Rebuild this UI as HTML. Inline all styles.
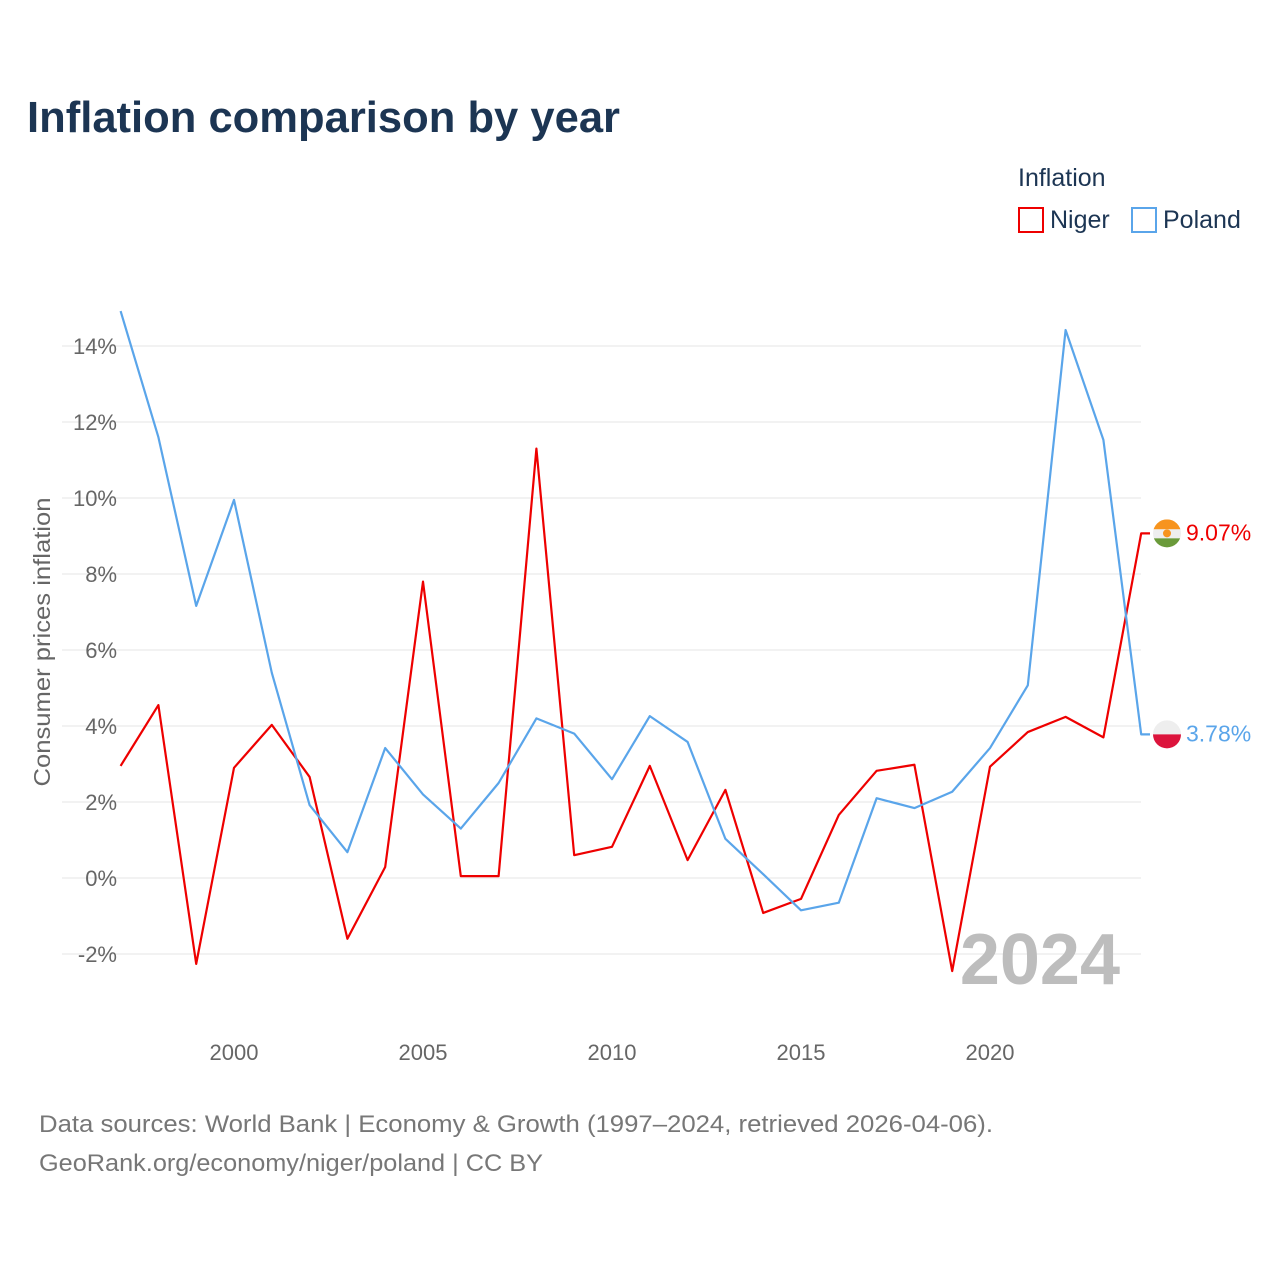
<!DOCTYPE html>
<html><head><meta charset="utf-8"><style>
body{margin:0;background:#fff;font-family:"Liberation Sans",sans-serif}
</style></head><body>
<svg width="1280" height="1280" xmlns="http://www.w3.org/2000/svg" style="font-family:'Liberation Sans',sans-serif">
<rect width="1280" height="1280" fill="#fff"/>
<text x="27" y="132" font-size="44" font-weight="bold" fill="#1c3553" textLength="593" lengthAdjust="spacingAndGlyphs">Inflation comparison by year</text>
<text x="1018" y="186" font-size="25" fill="#1c3553">Inflation</text>
<g><rect x="1019" y="208" width="24" height="24" fill="none" stroke="#ee0000" stroke-width="2"/><text x="1050" y="228" font-size="25" fill="#1c3553">Niger</text></g>
<g><rect x="1132" y="208" width="24" height="24" fill="none" stroke="#5aa5ea" stroke-width="2"/><text x="1163" y="228" font-size="25" fill="#1c3553">Poland</text></g>
<g id="grid"></g><g id="yt"></g><g id="xt"></g>
<text transform="translate(50,642) rotate(-90)" text-anchor="middle" font-size="23" fill="#666" textLength="289" lengthAdjust="spacingAndGlyphs">Consumer prices inflation</text>
<text x="1120" y="984" text-anchor="end" font-size="72" font-weight="bold" fill="#bdbdbd">2024</text>
<g id="lines"></g>
<text x="39" y="1132" font-size="24" fill="#777" textLength="954" lengthAdjust="spacingAndGlyphs">Data sources: World Bank | Economy &amp; Growth (1997–2024, retrieved 2026-04-06).</text>
<text x="39" y="1171" font-size="24" fill="#777" textLength="504" lengthAdjust="spacingAndGlyphs">GeoRank.org/economy/niger/poland | CC BY</text>
</svg>
<script>
const years=[1997,1998,1999,2000,2001,2002,2003,2004,2005,2006,2007,2008,2009,2010,2011,2012,2013,2014,2015,2016,2017,2018,2019,2020,2021,2022,2023,2024];
const poland=[14.92,11.6,7.16,9.95,5.4,1.92,0.68,3.42,2.2,1.3,2.5,4.2,3.8,2.6,4.26,3.58,1.03,0.1,-0.85,-0.65,2.1,1.84,2.27,3.42,5.07,14.42,11.53,3.78];
const niger=[2.95,4.55,-2.26,2.9,4.03,2.66,-1.6,0.29,7.8,0.05,0.05,11.3,0.6,0.82,2.95,0.47,2.32,-0.92,-0.55,1.66,2.82,2.98,-2.45,2.93,3.84,4.24,3.7,9.07];
const yTicks=[-2,0,2,4,6,8,10,12,14];
const xTicks=[2000,2005,2010,2015,2020];
const NS="http://www.w3.org/2000/svg";
const X=y=>120.6+(y-1997)*37.8, Y=v=>878-38*v;
function mk(t,a,p){const e=document.createElementNS(NS,t);for(const k in a)e.setAttribute(k,a[k]);p.appendChild(e);return e;}
const g=document.getElementById('grid'),yt=document.getElementById('yt'),xt=document.getElementById('xt'),L=document.getElementById('lines');
yTicks.forEach(v=>{const l=mk('line',{x1:62,x2:1141,y1:Y(v),y2:Y(v),stroke:'#e6e6e6','stroke-width':1},g);


const t=mk('text',{x:117,y:Y(v)+8,'text-anchor':'end','font-size':22,fill:'#666'},yt);t.textContent=v+'%';

});
xTicks.forEach(v=>{const t=mk('text',{x:X(v),y:1060,'text-anchor':'middle','font-size':22,fill:'#666'},xt);t.textContent=v;

});
function series(vals,col,name){
 const d=vals.map((v,i)=>(i?'L':'M')+X(years[i])+','+Y(v)).join(' ')+' L1150,'+Y(vals[vals.length-1]);
 const p=mk('path',{d:d,fill:'none',stroke:col,'stroke-width':2.2,'stroke-linejoin':'round'},L);
 
 
 const last=vals[vals.length-1];
 const t=mk('text',{x:1186,y:Y(last)+7,'font-size':23,fill:col},L);t.textContent=last.toFixed(2)+'%';
 
 
 return Y(last);
}
const yn=series(niger,'#ee0000','niger');
const yp=series(poland,'#5aa5ea','poland');
const fn=mk('g',{},L);


mk('clipPath',{id:'cn'},fn).appendChild(document.createElementNS(NS,'circle')).setAttribute('r','14');
fn.querySelector('circle').setAttribute('cx',1167);fn.querySelector('circle').setAttribute('cy',yn);
const gn=mk('g',{'clip-path':'url(#cn)'},fn);
mk('rect',{x:1153,y:yn-14,width:28,height:10,fill:'#f7941e'},gn);
mk('rect',{x:1153,y:yn-4,width:28,height:9,fill:'#eee'},gn);
mk('rect',{x:1153,y:yn+5,width:28,height:10,fill:'#6a9a3a'},gn);
mk('circle',{cx:1167,cy:yn,r:4,fill:'#f7941e'},gn);
const fp=mk('g',{},L);


mk('path',{d:`M1153,${yp} A14,14 0 0 1 1181,${yp} Z`,fill:'#eee'},fp);
mk('path',{d:`M1153,${yp} A14,14 0 0 0 1181,${yp} Z`,fill:'#dc143c'},fp);
</script>
</body></html>
